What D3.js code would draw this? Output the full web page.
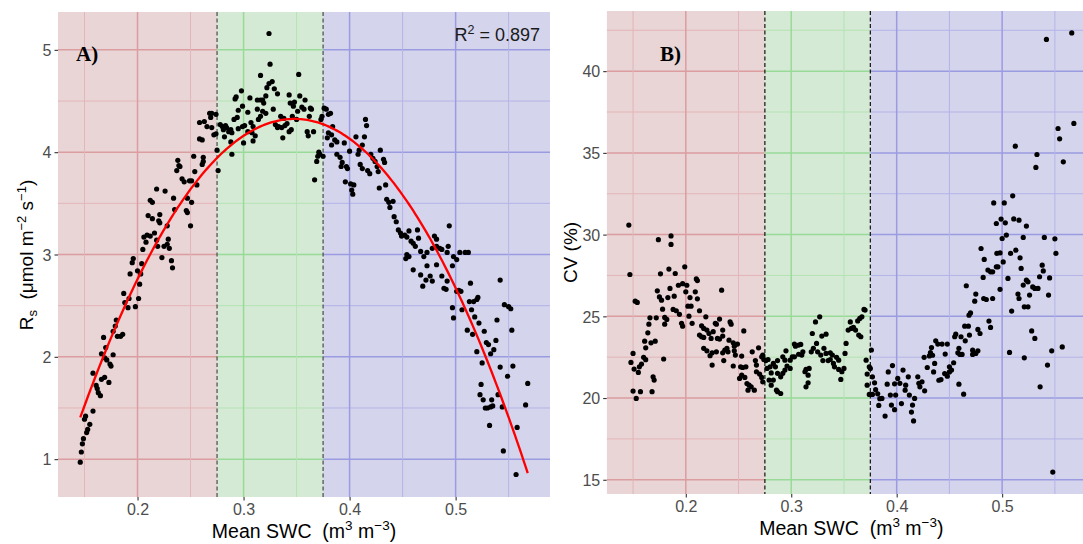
<!DOCTYPE html>
<html><head><meta charset="utf-8">
<script src="https://cdn.jsdelivr.net/npm/d3@7"></script>
<style>body{margin:0;background:#fff}svg{display:block;font-family:"Liberation Sans",Arial,sans-serif}</style>
</head><body><svg id="c" width="1083" height="544"></svg>
<script>
// ---------- data ----------
const xTickVals = [0.2, 0.3, 0.4, 0.5];
const xMinorVals = [0.15, 0.25, 0.35, 0.45, 0.55];
const yTicksA = [1, 2, 3, 4, 5];
const yMinorA = [1.5, 2.5, 3.5, 4.5];
const yTicksB = [15, 20, 25, 30, 35, 40];
const yMinorB = [17.5, 22.5, 27.5, 32.5, 37.5, 42.5];
const zoneBreaks = [0.275, 0.375];
const fitCoefA = [-4.334, 49.764, -71.5];   // Rs = a + b*SWC + c*SWC^2
const fitRangeA = [0.146, 0.568];
const r2Label = "0.897";

const rsPoints = [
[0.146,0.97],[0.147,1.07],[0.148,1.15],[0.149,1.20],[0.152,1.26],[0.153,1.29],[0.155,1.34],[0.150,1.39],[0.151,1.42],[0.158,1.47],[0.165,1.62],[0.163,1.65],[0.162,1.69],[0.161,1.72],[0.166,1.78],[0.169,1.80],[0.173,1.75],[0.158,1.84],[0.175,1.91],[0.174,1.93],[0.171,1.97],[0.169,1.99],[0.177,2.02],[0.166,2.03],[0.170,2.09],[0.168,2.19],[0.184,2.20],[0.186,2.22],[0.181,2.20],[0.177,2.25],[0.179,2.30],[0.180,2.36],[0.191,2.48],[0.198,2.49],[0.201,2.57],[0.188,2.53],[0.192,2.57],[0.187,2.62],[0.202,2.71],[0.203,2.81],[0.193,2.81],[0.200,2.84],[0.204,2.91],[0.195,2.92],[0.196,2.96],[0.205,3.05],[0.233,2.87],[0.232,2.94],[0.223,2.97],[0.219,3.08],[0.225,3.08],[0.230,3.06],[0.228,3.10],[0.208,3.12],[0.206,3.17],[0.209,3.19],[0.212,3.18],[0.216,3.21],[0.218,3.14],[0.229,3.15],[0.221,3.31],[0.220,3.33],[0.228,3.28],[0.221,3.39],[0.214,3.35],[0.210,3.38],[0.212,3.53],[0.214,3.51],[0.218,3.64],[0.226,3.62],[0.234,3.55],[0.235,3.44],[0.246,3.43],[0.247,3.41],[0.247,3.55],[0.251,3.51],[0.250,3.28],[0.242,3.74],[0.244,3.71],[0.249,3.72],[0.251,3.72],[0.256,3.68],[0.254,3.81],[0.237,3.82],[0.239,3.87],[0.240,3.86],[0.238,3.92],[0.253,3.96],[0.261,3.88],[0.262,3.91],[0.262,3.95],[0.276,3.82],[0.289,3.98],
[0.2585,4.29],[0.263,4.30],[0.268,4.38],[0.269,4.34],[0.2655,4.25],[0.2585,4.13],[0.261,4.12],[0.275,4.02],
[0.324,5.16],[0.325,4.86],[0.352,4.76],[0.316,4.75],[0.327,4.69],[0.324,4.67],[0.322,4.63],[0.329,4.62],[0.332,4.57],[0.298,4.60],[0.293,4.54],[0.292,4.52],[0.306,4.53],[0.313,4.51],[0.316,4.51],[0.318,4.51],[0.321,4.55],[0.319,4.48],[0.343,4.56],[0.353,4.55],[0.358,4.51],[0.344,4.48],[0.348,4.49],[0.347,4.45],[0.351,4.40],[0.355,4.44],[0.357,4.42],[0.363,4.43],[0.364,4.42],[0.299,4.45],[0.295,4.41],[0.304,4.39],[0.313,4.42],[0.318,4.40],[0.321,4.38],[0.316,4.35],[0.314,4.32],[0.328,4.42],[0.291,4.32],[0.294,4.34],[0.307,4.29],[0.309,4.25],[0.301,4.26],[0.299,4.25],[0.295,4.23],[0.335,4.35],[0.338,4.33],[0.346,4.35],[0.350,4.32],[0.362,4.35],[0.330,4.27],[0.333,4.25],[0.332,4.24],[0.339,4.26],[0.341,4.28],[0.345,4.22],[0.343,4.20],[0.336,4.24],[0.337,4.14],[0.360,4.20],[0.361,4.16],[0.366,4.20],[0.278,4.27],[0.280,4.25],[0.283,4.26],[0.284,4.24],[0.281,4.22],[0.282,4.15],[0.286,4.20],[0.288,4.22],[0.289,4.19],[0.274,4.18],[0.270,4.24],[0.272,4.17],[0.270,4.38],[0.274,4.37],[0.304,4.20],[0.308,4.19],[0.311,4.16],[0.309,4.11],[0.300,4.09],[0.288,4.10],[0.367,3.73],[0.369,3.91],[0.370,3.96],[0.371,4.00],[0.372,3.98],[0.375,3.96],[0.373,4.32],[0.374,4.35],[0.376,4.43],[0.378,4.42],[0.380,4.37],[0.382,4.38],
[0.380,4.19],[0.383,4.17],[0.379,4.14],[0.384,4.25],[0.386,4.12],[0.388,4.10],[0.383,4.07],[0.388,3.98],[0.391,3.95],[0.393,3.90],[0.392,3.86],[0.395,4.09],[0.397,3.86],[0.398,3.84],[0.400,4.01],[0.396,3.71],[0.401,3.69],[0.402,3.63],[0.403,3.59],[0.404,3.68],[0.406,4.15],[0.414,4.15],[0.408,3.98],[0.409,4.02],[0.412,4.07],[0.415,4.32],[0.416,4.26],[0.410,3.88],[0.412,3.84],[0.417,3.82],[0.419,3.79],[0.420,3.98],[0.422,3.94],[0.424,3.91],[0.426,3.86],[0.429,4.02],[0.432,3.93],[0.433,3.90],[0.427,3.81],[0.434,3.68],[0.428,3.65],[0.435,3.54],[0.437,3.51],[0.438,3.46],[0.441,3.52],[0.442,3.37],
[0.444,3.32],[0.446,3.24],[0.448,3.21],[0.449,3.18],[0.452,3.19],[0.454,3.17],[0.456,3.23],[0.458,3.13],[0.460,3.11],[0.462,3.08],[0.464,3.24],[0.465,3.16],[0.454,3.00],[0.453,2.96],[0.456,2.98],[0.467,3.03],[0.470,2.98],[0.473,3.02],[0.478,3.06],[0.480,3.18],[0.482,3.15],[0.482,3.08],[0.485,3.06],[0.487,3.05],[0.493,3.08],[0.494,3.28],[0.492,3.02],[0.498,2.98],[0.504,3.02],[0.509,3.02],[0.512,3.02],[0.460,2.85],[0.467,2.80],[0.473,2.89],[0.476,2.79],[0.482,2.90],[0.487,2.79],[0.497,2.89],[0.501,2.95],[0.542,2.75],
[0.469,2.69],[0.472,2.75],[0.478,2.74],[0.489,2.67],[0.491,2.66],[0.492,2.74],[0.501,2.64],[0.503,2.65],[0.505,2.64],[0.514,2.72],[0.497,2.48],[0.498,2.38],[0.506,2.46],[0.511,2.26],[0.513,2.54],[0.517,2.54],[0.520,2.56],[0.521,2.58],[0.515,2.46],[0.518,2.39],[0.522,2.33],[0.516,2.22],[0.527,2.25],[0.520,2.05],[0.529,2.14],[0.531,2.12],[0.536,2.07],[0.533,2.03],[0.538,2.16],[0.525,1.94],[0.542,1.90],[0.539,2.36],[0.546,2.51],[0.550,2.49],[0.552,2.47],[0.553,2.26],[0.554,1.91],[0.549,1.81],[0.524,1.73],[0.523,1.63],[0.526,1.58],[0.528,1.50],[0.530,1.50],[0.533,1.51],[0.535,1.52],[0.534,1.58],[0.540,1.63],[0.544,1.51],[0.532,1.33],[0.558,1.31],[0.568,1.74],[0.566,1.53],[0.545,1.08],[0.557,0.85]
];

const cvPoints = [
[0.146,30.58],[0.147,27.56],[0.186,29.92],[0.186,29.40],[0.174,29.69],[0.184,27.89],[0.199,28.03],[0.190,27.62],[0.176,27.60],[0.152,25.93],[0.154,25.85],[0.173,26.56],[0.175,26.19],[0.177,25.99],[0.185,26.71],[0.183,26.15],[0.189,26.23],[0.193,26.90],[0.197,27.00],[0.201,26.90],[0.200,26.50],[0.204,26.15],[0.205,25.62],[0.202,25.62],[0.209,26.50],[0.211,26.07],[0.210,27.29],[0.211,27.19],[0.234,26.60],[0.178,25.44],[0.188,25.42],[0.191,25.34],[0.194,25.12],[0.196,24.57],[0.197,24.40],[0.203,25.01],[0.206,24.57],[0.213,25.34],[0.219,24.97],[0.228,24.57],[0.232,24.83],[0.242,24.66],[0.243,24.52],[0.235,24.16],[0.166,24.91],[0.172,24.91],[0.180,24.93],[0.182,24.81],[0.180,24.52],[0.165,24.52],[0.164,23.99],[0.161,23.48],[0.167,23.38],[0.171,23.48],[0.162,23.07],[0.150,22.73],[0.148,22.18],[0.151,21.77],[0.156,21.91],[0.158,22.08],[0.155,21.57],[0.160,22.49],[0.162,22.35],[0.179,22.39],[0.169,21.30],[0.170,21.10],[0.150,20.43],[0.157,20.39],[0.168,20.39],[0.153,19.98],
[0.215,24.42],[0.217,24.26],[0.220,24.16],[0.213,23.85],[0.215,23.75],[0.217,23.71],[0.222,23.95],[0.224,23.65],[0.229,24.52],[0.226,24.06],[0.230,23.65],[0.232,23.61],[0.235,23.79],[0.217,23.04],[0.220,22.89],[0.223,22.59],[0.225,22.77],[0.229,22.83],[0.225,22.02],[0.235,22.77],[0.237,22.94],[0.239,23.04],[0.241,23.54],[0.236,22.29],[0.240,22.83],[0.245,23.38],[0.246,23.17],[0.249,23.30],[0.246,22.89],[0.247,22.63],[0.245,21.96],[0.253,22.57],[0.255,24.11],[0.252,21.91],[0.254,21.87],[0.257,21.91],[0.253,21.40],[0.251,21.20],[0.256,21.26],[0.258,20.89],[0.260,20.79],[0.259,20.48],[0.262,20.69],[0.265,20.48],[0.263,22.83],[0.269,23.07],[0.266,22.29],[0.267,22.02],[0.267,21.61],[0.270,21.47],[0.272,21.26],[0.273,20.99],[0.272,22.52],[0.273,22.63],[0.274,22.36],[0.276,22.29],
[0.277,21.81],[0.278,22.36],[0.280,21.91],[0.281,21.54],[0.283,22.12],[0.285,21.91],[0.287,22.29],[0.279,21.10],[0.281,20.79],[0.283,21.10],[0.286,20.48],[0.287,20.39],[0.290,20.28],[0.287,21.51],[0.290,21.30],[0.292,21.51],[0.294,21.71],[0.296,21.96],[0.299,21.81],[0.292,22.52],[0.294,22.32],[0.295,22.89],[0.299,22.32],[0.301,22.52],[0.303,23.30],[0.304,23.17],[0.307,23.24],[0.309,23.28],[0.303,22.52],[0.307,22.68],[0.310,22.63],[0.311,22.83],[0.313,21.61],[0.314,21.75],[0.317,21.81],[0.316,21.40],[0.316,20.93],[0.314,20.69],[0.319,22.83],[0.321,23.04],[0.324,23.34],[0.320,23.95],[0.323,24.66],[0.327,24.97],[0.329,23.79],[0.333,23.91],[0.325,22.83],[0.328,22.63],[0.331,23.04],[0.333,22.73],[0.337,22.77],[0.339,22.63],[0.330,22.29],[0.335,22.29],[0.337,22.36],[0.340,22.12],[0.343,22.49],[0.345,22.32],[0.341,21.91],[0.345,21.75],[0.348,21.61],[0.347,21.14],[0.350,21.81],[0.351,22.73],[0.352,23.34],[0.354,24.16],[0.356,24.66],[0.357,24.26],[0.359,24.32],[0.361,24.16],[0.363,24.72],[0.364,23.85],[0.366,23.75],[0.365,24.87],[0.367,24.97],[0.369,25.42],[0.370,25.38],[0.376,22.94],[0.371,22.32],
[0.372,21.47],[0.374,21.91],[0.372,20.79],[0.375,21.81],[0.377,21.30],[0.379,20.93],[0.374,20.22],[0.377,20.22],[0.380,20.51],[0.382,20.26],[0.384,19.96],[0.383,19.55],
[0.542,41.94],[0.566,42.34],[0.553,36.49],[0.568,36.80],[0.5545,35.86],[0.5125,35.41],[0.533,34.90],[0.532,34.11],[0.558,34.45],[0.548,15.47],[0.510,32.37],[0.492,31.94],[0.502,31.94],[0.4945,30.68],[0.499,30.95],[0.503,30.72],[0.500,29.76],[0.504,29.97],[0.511,30.96],[0.516,30.88],[0.523,30.52],[0.520,29.83],[0.540,29.83],[0.550,29.74],[0.551,28.85],[0.480,29.15],[0.483,28.48],[0.4865,27.83],[0.489,27.72],[0.491,27.72],[0.4945,28.03],[0.496,28.03],[0.495,28.85],[0.498,28.88],[0.501,28.33],[0.508,28.85],[0.513,29.05],[0.517,28.58],[0.518,27.93],[0.5055,27.32],[0.498,26.65],[0.491,26.09],[0.482,27.38],[0.4825,26.09],[0.485,26.03],[0.475,26.36],[0.474,25.93],[0.466,26.87],[0.489,24.32],[0.4875,24.71],[0.477,24.20],[0.479,23.95],[0.4686,25.07],[0.470,25.21],[0.4645,24.40],[0.468,24.40],[0.469,23.85],[0.465,23.50],[0.456,23.91],[0.455,23.75],[0.461,23.75],[0.459,23.04],[0.458,22.77],[0.460,22.67],[0.462,22.67],[0.472,22.93],[0.475,22.73],[0.477,22.89],[0.472,22.67],[0.515,26.36],[0.516,26.09],[0.520,26.91],[0.523,27.21],[0.5245,27.11],[0.526,26.30],[0.529,26.80],[0.531,26.71],[0.534,26.71],[0.5355,27.42],[0.538,28.13],[0.539,27.78],[0.545,27.35],[0.544,26.30],[0.509,25.32],[0.521,25.58],[0.5245,25.58],[0.528,24.11],[0.531,23.65],[0.507,22.79],[0.521,22.46],[0.547,22.89],[0.557,23.13],[0.543,22.02],[0.536,20.69],
[0.386,19.98],[0.389,18.90],[0.392,21.60],[0.391,20.85],[0.394,20.18],[0.396,21.99],[0.398,20.87],[0.399,20.18],[0.401,21.20],[0.403,20.90],[0.406,21.71],[0.4045,19.66],[0.398,19.29],[0.395,19.57],[0.408,20.48],[0.4085,20.79],[0.411,21.30],[0.412,20.18],[0.415,19.57],[0.414,19.14],[0.416,18.60],[0.417,19.98],[0.420,21.30],[0.421,20.90],[0.422,20.69],[0.424,20.99],[0.4265,20.44],[0.426,22.49],[0.429,21.87],[0.431,22.58],[0.432,22.78],[0.434,22.62],[0.433,23.09],[0.437,23.50],[0.439,23.30],[0.436,22.12],[0.435,21.60],[0.440,21.09],[0.442,21.13],[0.4455,21.50],[0.448,21.34],[0.450,21.60],[0.452,21.71],[0.450,21.91],[0.454,22.16],[0.443,23.30],[0.448,23.30],[0.446,22.69],[0.459,20.85],[0.4635,20.24]
];

// ---------- drawing ----------
const svg = d3.select("#c");
const zones = [
  {bg:"#E9D4D6", major:"#DB9DA0", minor:"#E3B6B8"},
  {bg:"#D4EAD4", major:"#99DA99", minor:"#B5E3B5"},
  {bg:"#D4D4EC", major:"#9B9BE2", minor:"#B4B4E8"}
];
const xDomain = [0.125, 0.589];

function drawPanel(cfg) {
  const x = d3.scaleLinear().domain(xDomain).range([cfg.left, cfg.right]);
  const y = d3.scaleLinear().domain(cfg.yDomain).range([cfg.bottom, cfg.top]);
  const g = svg.append("g");
  const cid = "clip" + cfg.id;
  svg.append("clipPath").attr("id", cid).append("rect")
    .attr("x", cfg.left).attr("y", cfg.top)
    .attr("width", cfg.right - cfg.left).attr("height", cfg.bottom - cfg.top);
  const p = g.append("g").attr("clip-path", `url(#${cid})`);
  const bounds = [xDomain[0], zoneBreaks[0], zoneBreaks[1], xDomain[1]];
  zones.forEach((z, i) => {
    const x0 = x(bounds[i]), x1 = x(bounds[i + 1]);
    p.append("rect").attr("x", x0).attr("y", cfg.top).attr("width", x1 - x0)
      .attr("height", cfg.bottom - cfg.top).attr("fill", z.bg);
    p.selectAll(null).data(cfg.yMinor).join("line")
      .attr("x1", x0).attr("x2", x1).attr("y1", d => y(d)).attr("y2", d => y(d))
      .attr("stroke", z.minor).attr("stroke-width", 1);
    p.selectAll(null).data(cfg.yTicks).join("line")
      .attr("x1", x0).attr("x2", x1).attr("y1", d => y(d)).attr("y2", d => y(d))
      .attr("stroke", z.major).attr("stroke-width", 1.5);
    const inZone = d => d >= bounds[i] && d < bounds[i + 1];
    p.selectAll(null).data(xMinorVals.filter(inZone)).join("line")
      .attr("x1", d => x(d)).attr("x2", d => x(d)).attr("y1", cfg.top).attr("y2", cfg.bottom)
      .attr("stroke", z.minor).attr("stroke-width", 1);
    p.selectAll(null).data(xTickVals.filter(inZone)).join("line")
      .attr("x1", d => x(d)).attr("x2", d => x(d)).attr("y1", cfg.top).attr("y2", cfg.bottom)
      .attr("stroke", z.major).attr("stroke-width", 1.5);
  });
  p.selectAll(null).data(zoneBreaks).join("line")
    .attr("x1", d => x(d)).attr("x2", d => x(d)).attr("y1", cfg.top).attr("y2", cfg.bottom)
    .attr("stroke", cfg.dashColor).attr("stroke-width", 1.2).attr("stroke-dasharray", "4,2.5");
  p.selectAll(null).data(cfg.points).join("circle")
    .attr("cx", d => x(d[0])).attr("cy", d => y(d[1])).attr("r", 2.6).attr("fill", "#000");
  if (cfg.fit) {
    const xs = d3.range(cfg.fitRange[0], cfg.fitRange[1] + 1e-9, 0.002);
    const f = v => cfg.fit[0] + cfg.fit[1] * v + cfg.fit[2] * v * v;
    p.append("path").datum(xs)
      .attr("d", d3.line().x(v => x(v)).y(v => y(f(v))))
      .attr("fill", "none").attr("stroke", "#FF0000").attr("stroke-width", 2.3);
  }
  const ax = g.append("g").attr("transform", `translate(0,${cfg.bottom})`)
    .call(d3.axisBottom(x).tickValues(xTickVals).tickFormat(d3.format(".1f")).tickSize(3.5).tickPadding(3));
  const ay = g.append("g").attr("transform", `translate(${cfg.left},0)`)
    .call(d3.axisLeft(y).tickValues(cfg.yTicks).tickFormat(d3.format("d")).tickSize(3.5).tickPadding(3));
  [ax, ay].forEach(a => {
    a.select(".domain").remove();
    a.selectAll(".tick line").attr("stroke", "#333").attr("stroke-width", 1.1);
    a.selectAll(".tick text").attr("fill", "#4D4D4D").style("font-size", "16px")
      .style("font-family", '"Liberation Sans",Arial,sans-serif');
  });
  ax.selectAll(".tick text").attr("dy", null).attr("y", 18.3);
  ay.selectAll(".tick text").attr("dy", "0.36em");
  const xt = g.append("text").attr("x", (cfg.left + cfg.right) / 2).attr("y", cfg.bottom + 40.5)
    .attr("text-anchor", "middle").style("font-size", "19.5px").style("white-space", "pre").attr("fill", "#000");
  xt.append("tspan").text("Mean SWC  (m");
  xt.append("tspan").attr("dy", -7.5).style("font-size", "13.5px").text("3");
  xt.append("tspan").attr("dy", 7.5).text(" m");
  xt.append("tspan").attr("dy", -7.5).style("font-size", "13.5px").text("\u22123");
  xt.append("tspan").attr("dy", 7.5).text(")");
  g.append("text").attr("x", cfg.letterX).attr("y", 61)
    .style("font-family", '"Liberation Serif","Times New Roman",serif')
    .style("font-weight", "bold").style("font-size", "21px").text(cfg.letter);
  return {x, y, g};
}

drawPanel({id: "A", left: 58, right: 550, top: 12, bottom: 497, yDomain: [0.63, 5.37],
  yTicks: yTicksA, yMinor: yMinorA, points: rsPoints, fit: fitCoefA, fitRange: fitRangeA,
  dashColor: "#4a4a4a", letter: "A)", letterX: 76});
drawPanel({id: "B", left: 606.7, right: 1096, top: 11, bottom: 494, yDomain: [14.13, 43.68],
  yTicks: yTicksB, yMinor: yMinorB, points: cvPoints, dashColor: "#111",
  letter: "B)", letterX: 660});

const ytA = svg.append("text").attr("transform", "translate(33,255) rotate(-90)")
  .attr("text-anchor", "middle").style("font-size", "19px").style("white-space", "pre");
ytA.append("tspan").text("R");
ytA.append("tspan").attr("dy", 4).style("font-size", "13px").text("s");
ytA.append("tspan").attr("dy", -4).text("  (\u03BCmol m");
ytA.append("tspan").attr("dy", -7.5).style("font-size", "13px").text("\u22122");
ytA.append("tspan").attr("dy", 7.5).text(" s");
ytA.append("tspan").attr("dy", -7.5).style("font-size", "13px").text("\u22121");
ytA.append("tspan").attr("dy", 7.5).text(")");

svg.append("text").attr("transform", "translate(577,252.5) rotate(-90)")
  .attr("text-anchor", "middle").style("font-size", "19px").text("CV (%)");

const r2 = svg.append("text").attr("x", 540).attr("y", 41).attr("text-anchor", "end")
  .style("font-size", "18px").style("white-space", "pre").attr("fill", "#1a1a1a");
r2.append("tspan").text("R");
r2.append("tspan").attr("dy", -7).style("font-size", "12.5px").text("2");
r2.append("tspan").attr("dy", 7).text(" = " + r2Label);
</script></body></html>
